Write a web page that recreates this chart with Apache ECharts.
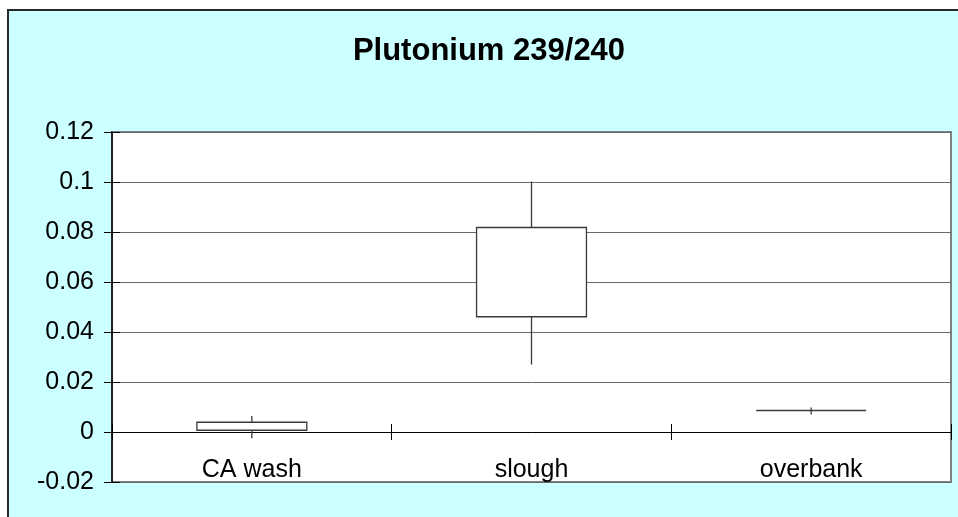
<!DOCTYPE html>
<html>
<head>
<meta charset="utf-8">
<script src="https://cdn.jsdelivr.net/npm/echarts@6/dist/echarts.min.js"></script>
<style>
  html, body { margin: 0; padding: 0; background: #fff; }
  #chart { width: 958px; height: 517px; }
</style>
</head>
<body>
<div id="chart"></div>
<script>
// box data: whisker low, box bottom, box top, whisker high
const categories = ['CA wash', 'slough', 'overbank']
const lows = [-0.0025, 0.027, 0.007]
const boxBottoms = [0.0007, 0.0461, 0.0086]
const boxTops = [0.0039, 0.0818, 0.0086]
const highs = [0.0064, 0.1002, 0.0098]

const FONT = "'Liberation Sans', Arial, sans-serif"
const LINE = '#3a3a3a'

const chart = echarts.init(document.getElementById('chart'), null, { renderer: 'canvas' })

const boxData = categories.map((c, i) => [i, lows[i], boxBottoms[i], boxTops[i], highs[i]])

const option = {
  backgroundColor: '#ffffff',
  animation: false,
  graphic: [
    {
      type: 'rect',
      z: -10,
      silent: true,
      shape: { x: 8, y: 10, width: 1000, height: 600 },
      style: { fill: '#CCFFFF', stroke: '#2a2a2a', lineWidth: 2 },
    },
  ],
  title: {
    text: 'Plutonium 239/240',
    left: 489,
    top: 36,
    textAlign: 'center',
    padding: 0,
    textStyle: { fontFamily: FONT, fontSize: 31, fontWeight: 'bold', color: '#000' },
  },
  grid: {
    left: 112,
    right: 7,
    top: 132,
    bottom: 35,
    containLabel: false,
    outerBoundsMode: 'none',
    show: true,
    backgroundColor: '#ffffff',
    borderColor: '#808080',
    borderWidth: 2,
  },
  xAxis: [
    {
      type: 'category',
      data: categories,
      boundaryGap: true,
      axisLine: { onZero: true, lineStyle: { color: '#000', width: 1 } },
      axisTick: { show: true, length: 8, lineStyle: { color: '#000' } },
      // labels sit just under the zero line, above the plot bottom
      axisLabel: { fontFamily: FONT, fontSize: 25, color: '#000', margin: -24 },
      splitLine: { show: false },
    },
    {
      type: 'category',
      data: categories,
      position: 'bottom',
      boundaryGap: true,
      axisLine: { show: false, onZero: true },
      axisTick: { show: true, inside: true, length: 8, lineStyle: { color: '#000' } },
      axisLabel: { show: false },
      splitLine: { show: false },
    },
  ],
  yAxis: [
    {
      type: 'value',
      min: -0.02,
      max: 0.12,
      interval: 0.02,
      axisLine: { show: true, onZero: false, lineStyle: { color: '#000', width: 1.5 } },
      axisTick: { show: true, length: 8, lineStyle: { color: '#000' } },
      axisLabel: { fontFamily: FONT, fontSize: 25, color: '#000', margin: 18 },
      splitLine: { show: true, lineStyle: { color: '#6a6a6a', width: 1 } },
    },
    {
      type: 'value',
      position: 'left',
      min: -0.02,
      max: 0.12,
      interval: 0.02,
      axisLine: { show: false },
      axisTick: { show: true, inside: true, length: 8, lineStyle: { color: '#000' } },
      axisLabel: { show: false },
      splitLine: { show: false },
    },
  ],
  series: [
    {
      type: 'custom',
      xAxisIndex: 0,
      yAxisIndex: 0,
      data: boxData,
      encode: { x: 0, y: [1, 2, 3, 4] },
      renderItem(params, api) {
        const x = api.value(0)
        const lo = api.coord([x, api.value(1)])
        const b1 = api.coord([x, api.value(2)])
        const b3 = api.coord([x, api.value(3)])
        const hi = api.coord([x, api.value(4)])
        const w = api.size([1, 0])[0] * 0.393
        return {
          type: 'group',
          children: [
            {
              type: 'line',
              shape: { x1: lo[0], y1: lo[1], x2: hi[0], y2: hi[1] },
              style: { stroke: LINE, lineWidth: 1.3 },
            },
            {
              type: 'rect',
              shape: { x: b3[0] - w / 2, y: b3[1], width: w, height: b1[1] - b3[1] },
              style: { fill: '#ffffff', stroke: LINE, lineWidth: 1.3 },
            },
          ],
        }
      },
    },
  ],
}

chart.setOption(option)
</script>
</body>
</html>
